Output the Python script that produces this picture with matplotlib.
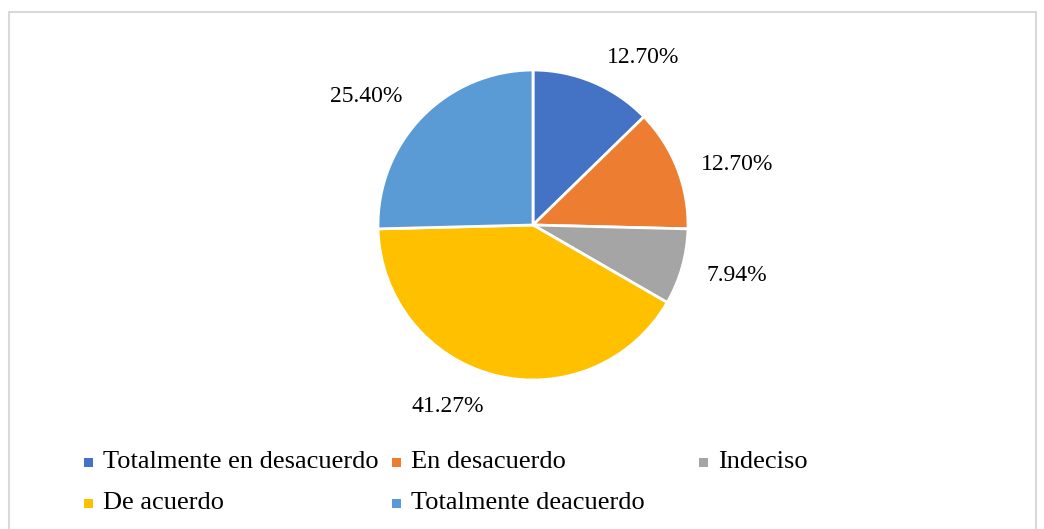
import numpy as np
import matplotlib.pyplot as plt
from matplotlib.patches import Rectangle

# Datos del gráfico
categorias = ['Totalmente en desacuerdo', 'En desacuerdo', 'Indeciso',
              'De acuerdo', 'Totalmente deacuerdo']
porcentajes = [12.70, 12.70, 7.94, 41.27, 25.40]
colores = ['#4472C4', '#ED7D31', '#A5A5A5', '#FFC000', '#5B9BD5']

plt.rcParams['font.family'] = ['Liberation Serif', 'DejaVu Serif']

W, H = 1044, 529
fig = plt.figure(figsize=(W / 100, H / 100), dpi=100)

# Marco gris alrededor del gráfico
fig.patches.append(Rectangle((9 / W, -0.02), (1036 - 9) / W, 1.02 - 12 / H,
                             transform=fig.transFigure, fill=False,
                             edgecolor='#D9D9D9', linewidth=1.5))

# Ejes de la torta: centro (533, 225), radio 155 px
cx, cy, r = 533, 225, 155
ax = fig.add_axes([(cx - r) / W, (H - cy - r) / H, 2 * r / W, 2 * r / H])
wedges, _ = ax.pie(porcentajes, colors=colores, startangle=90, counterclock=False,
                   wedgeprops=dict(edgecolor='white', linewidth=2))
ax.set_xlim(-1, 1)
ax.set_ylim(-1, 1)
ax.set_aspect('auto')

# Etiquetas de datos fuera de la torta (estilo Excel)
for w, p in zip(wedges, porcentajes):
    ang = np.radians((w.theta1 + w.theta2) / 2)
    x, y = np.cos(ang), np.sin(ang)
    ha = 'left' if x > 0 else 'right'
    if y > 0.5:
        va = 'bottom'
    elif y < -0.5:
        va = 'top'
    else:
        va = 'center'
    ax.text(1.12 * x + 0.04 * np.sign(x), 1.12 * y - 0.02, f'{p:.2f}%',
            ha=ha, va=va, fontsize=17, clip_on=False)

# Leyenda manual en dos filas
col_x = [88, 396, 703]
fila_y = [462, 503]
orden = [(0, 0), (0, 1), (0, 2), (1, 0), (1, 1)]
for (fila, col), cat, c in zip(orden, categorias, colores):
    mx, my = col_x[col], fila_y[fila]
    fig.patches.append(Rectangle(((mx - 4.5) / W, (H - my - 4.5) / H), 9 / W, 9 / H,
                                 transform=fig.transFigure, facecolor=c,
                                 edgecolor='none'))
    fig.text((mx + 15) / W, (H - my) / H, cat, ha='left', va='center',
             fontsize=19)

fig.savefig('out.png', dpi=100)
